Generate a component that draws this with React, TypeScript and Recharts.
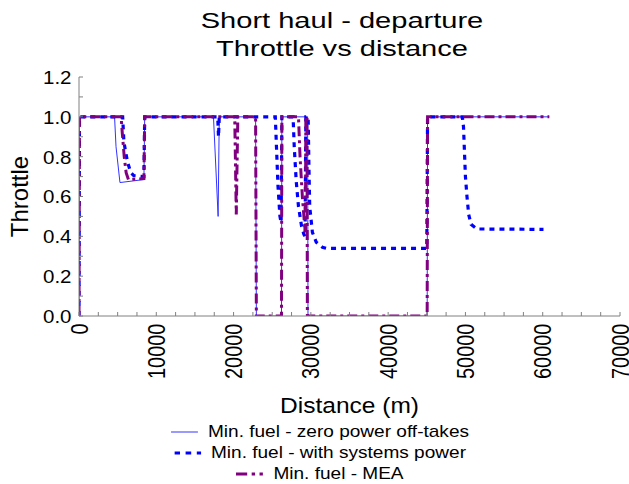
import React from 'react';
import { LineChart, Line, XAxis, YAxis, Legend } from 'recharts';

// distance (m) and throttle
const zeroDist = [0, 60, 4600, 4790, 5300, 8400, 8500, 17400, 18000, 18150, 22850, 22950, 26200, 26250, 29580, 29630, 45050, 45100, 60850];
const zeroThrottle = [0, 1, 1, 0.85, 0.67, 0.685, 1, 1, 0.5, 1, 1, 0, 0, 1, 1, 0, 0, 1, 1];

const sysDist = [
  0, 60, 5650, 5800, 6000, 6300, 6700, 7100, 8400, 8500, 17950, 18050, 18150, 25400, 25550, 25750, 26000, 26150, 26250,
  27700, 27850, 28100, 28400, 28800, 29100, 29250, 29350, 29650, 29750, 29850, 30200, 30700, 31500, 32000, 45000, 45100,
  49600, 49750, 50000, 50200, 50420, 50730, 51500, 60100,
];
const sysThrottle = [
  0, 1, 1, 0.88, 0.83, 0.77, 0.72, 0.705, 0.7, 1, 1, 0.9, 1, 1, 0.85, 0.65, 0.5, 0.47, 1,
  1, 0.85, 0.68, 0.55, 0.45, 0.41, 0.4, 1, 1, 0.75, 0.55, 0.42, 0.37, 0.345, 0.34, 0.34, 1,
  1, 0.95, 0.7, 0.6, 0.51, 0.46, 0.437, 0.435,
];

const meaDist = [0, 60, 5450, 5600, 5850, 6100, 6400, 8400, 8500, 20150, 20350, 20550, 22850, 22950, 26200, 26250, 28400, 28600, 28900, 29200, 29300, 29350, 29500, 29550, 45050, 45100, 60850];
const meaThrottle = [0, 1, 1, 0.92, 0.8, 0.72, 0.685, 0.69, 1, 1, 0.51, 1, 1, 0, 0, 1, 1, 0.8, 0.6, 0.45, 0.42, 1, 1, 0, 0, 1, 1];

const seriesNames = ['Min. fuel - zero power off-takes', 'Min. fuel - with systems power', 'Min. fuel - MEA'];

const xTicks = [0, 10000, 20000, 30000, 40000, 50000, 60000, 70000];
const xMinorTicks = [
  0, 2500, 5000, 7500, 10000, 12500, 15000, 17500, 20000, 22500, 25000, 27500, 30000, 32500, 35000,
  37500, 40000, 42500, 45000, 47500, 50000, 52500, 55000, 57500, 60000, 62500, 65000, 67500, 70000,
];
const yMinorTicks = [0, 0.1, 0.2, 0.3, 0.4, 0.5, 0.6, 0.7, 0.8, 0.9, 1.0, 1.1, 1.2];

const FONT = '"Liberation Sans", Arial, Helvetica, sans-serif';
const BOX = '#808080';

const toPoints = (dist: number[], thr: number[]) => dist.map((d, i) => ({ d, t: thr[i] }));

const series = [
  { name: seriesNames[0], data: toPoints(zeroDist, zeroThrottle), color: '#3333ff', width: 1, dash: undefined },
  { name: seriesNames[1], data: toPoints(sysDist, sysThrottle), color: '#0000ff', width: 3.2, dash: '5 5' },
  { name: seriesNames[2], data: toPoints(meaDist, meaThrottle), color: '#800080', width: 3, dash: '10 4 3 4' },
];

const XTick = (props: any) => {
  const { x, y, payload } = props;
  if (!xTicks.includes(payload.value)) return <g />;
  return (
    <g transform={`translate(${x},${y})`}>
      <text transform="rotate(-90) scale(1,1.2)" textAnchor="end" dy="0.36em" fontSize={20} fill="#000" fontFamily={FONT}>
        {payload.value}
      </text>
    </g>
  );
};

const YTick = (props: any) => {
  const { x, y, payload } = props;
  const v = payload.value as number;
  if (Math.round(v * 10) % 2 !== 0) return <g />;
  return (
    <g transform={`translate(${x},${y}) scale(1.14,1)`}>
      <text textAnchor="end" dy="0.38em" fontSize={18} fill="#000" fontFamily={FONT}>
        {v.toFixed(1)}
      </text>
    </g>
  );
};

const XLabel = (props: any) => {
  const vb = props.viewBox;
  return (
    <g transform={`translate(${vb.x + vb.width / 2},${vb.y + 97}) scale(1.115,1)`}>
      <text textAnchor="middle" fontSize={22} fill="#000" fontFamily={FONT}>
        Distance (m)
      </text>
    </g>
  );
};

const YLabel = (props: any) => {
  const vb = props.viewBox;
  return (
    <g transform={`translate(${vb.x + 28},${vb.y + vb.height / 2}) rotate(-90)`}>
      <text textAnchor="middle" fontSize={24} fill="#000" fontFamily={FONT}>
        Throttle
      </text>
    </g>
  );
};

const LegendBox = () => (
  <div style={{ transform: 'scaleX(1.12)', fontFamily: FONT, fontSize: 17, lineHeight: '21px', color: '#000' }}>
    {series.map((s) => (
      <div key={s.name} style={{ textAlign: 'center', whiteSpace: 'nowrap', height: 21 }}>
        <svg width={24} height={21} style={{ display: 'inline-block', verticalAlign: 'top', marginRight: 9 }}>
          <line x1={0} x2={24} y1={11} y2={11} stroke={s.color} strokeWidth={s.width} strokeDasharray={s.dash} />
        </svg>
        <span>{s.name}</span>
      </div>
    ))}
  </div>
);

export default function App() {
  return (
    <div style={{ position: 'absolute', left: 0, top: 0, width: 629, height: 484, overflow: 'hidden', background: '#fff' }}>
      <div
        style={{
          position: 'absolute',
          left: 142,
          top: 7,
          width: 400,
          textAlign: 'center',
          fontFamily: FONT,
          fontSize: 22,
          lineHeight: '28px',
          transform: 'scaleX(1.32)',
          color: '#000',
          zIndex: 1,
        }}
      >
        Short haul - departure
        <br />
        Throttle vs distance
      </div>
      <LineChart width={629} height={484} margin={{ top: 77, right: 9, bottom: 68, left: 0 }}>
        <XAxis
          xAxisId="b"
          type="number"
          dataKey="d"
          domain={[0, 70000]}
          allowDataOverflow
          ticks={xMinorTicks}
          interval={0}
          tickSize={-4}
          tickMargin={11.5}
          height={100}
          stroke={BOX}
          tick={XTick}
          label={XLabel}
        />
        <XAxis
          xAxisId="t"
          orientation="top"
          type="number"
          domain={[0, 70000]}
          allowDataOverflow
          ticks={xMinorTicks}
          interval={0}
          tickSize={-4}
          height={0}
          stroke={BOX}
          tick={false}
        />
        <YAxis
          yAxisId="l"
          type="number"
          domain={[0, 1.2]}
          allowDataOverflow
          ticks={yMinorTicks}
          interval={0}
          tickSize={-4}
          tickMargin={11.5}
          width={79}
          stroke={BOX}
          tick={YTick}
          label={YLabel}
        />
        <YAxis
          yAxisId="r"
          orientation="right"
          type="number"
          domain={[0, 1.2]}
          allowDataOverflow
          ticks={yMinorTicks}
          interval={0}
          tickSize={-4}
          width={0}
          stroke={BOX}
          tick={false}
        />
        {series.map((s) => (
          <Line
            key={s.name}
            xAxisId="b"
            yAxisId="l"
            data={s.data}
            dataKey="t"
            name={s.name}
            type="linear"
            stroke={s.color}
            strokeWidth={s.width}
            strokeDasharray={s.dash}
            dot={false}
            activeDot={false}
            isAnimationActive={false}
          />
        ))}
        <Legend
          layout="horizontal"
          verticalAlign="middle"
          align="center"
          content={LegendBox}
          wrapperStyle={{ top: 421, left: 20, width: 600 }}
        />
      </LineChart>
    </div>
  );
}
